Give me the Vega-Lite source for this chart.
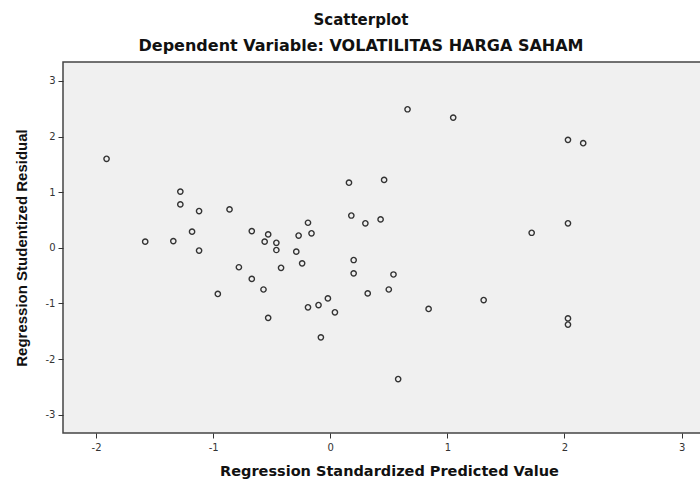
{
  "$schema": "https://vega.github.io/schema/vega-lite/v6.json",
  "width": 640,
  "height": 371,
  "autosize": "none",
  "padding": {"left": 63, "top": 62, "right": 0, "bottom": 49},
  "background": "white",
  "title": {
    "text": "Scatterplot",
    "subtitle": "Dependent Variable: VOLATILITAS HARGA SAHAM",
    "anchor": "middle",
    "frame": "group",
    "dx": -22,
    "offset": 8,
    "font": "DejaVu Sans",
    "fontSize": 15,
    "fontWeight": "bold",
    "color": "#111111",
    "subtitleFont": "DejaVu Sans",
    "subtitleFontSize": 16,
    "subtitleFontWeight": "bold",
    "subtitleColor": "#111111",
    "subtitlePadding": 10
  },
  "config": {
    "view": {"fill": "#f0f0f0", "stroke": "#444444", "strokeWidth": 1.5},
    "axis": {
      "labelFont": "DejaVu Sans",
      "labelFontSize": 10,
      "labelColor": "#333333",
      "titleFont": "DejaVu Sans",
      "titleFontWeight": "bold",
      "titleColor": "#111111",
      "grid": false,
      "domain": false,
      "tickColor": "#333333",
      "tickSize": 5,
      "tickWidth": 1,
      "labelExpr": "'' + datum.value"
    }
  },
  "data": {
    "values": [
      {"pred": -1.91, "resid": 1.60},
      {"pred": -1.28, "resid": 1.01},
      {"pred": -1.28, "resid": 0.78},
      {"pred": -1.12, "resid": 0.66},
      {"pred": -0.86, "resid": 0.69},
      {"pred": -1.18, "resid": 0.29},
      {"pred": -1.58, "resid": 0.11},
      {"pred": -1.34, "resid": 0.12},
      {"pred": -1.12, "resid": -0.05},
      {"pred": -0.67, "resid": 0.30},
      {"pred": -0.53, "resid": 0.24},
      {"pred": -0.56, "resid": 0.11},
      {"pred": -0.46, "resid": 0.09},
      {"pred": -0.46, "resid": -0.04},
      {"pred": -0.29, "resid": -0.07},
      {"pred": -0.27, "resid": 0.22},
      {"pred": -0.19, "resid": 0.45},
      {"pred": -0.16, "resid": 0.26},
      {"pred": 0.16, "resid": 1.17},
      {"pred": 0.18, "resid": 0.58},
      {"pred": 0.30, "resid": 0.44},
      {"pred": -0.78, "resid": -0.35},
      {"pred": -0.42, "resid": -0.36},
      {"pred": -0.24, "resid": -0.28},
      {"pred": 0.20, "resid": -0.22},
      {"pred": 0.20, "resid": -0.46},
      {"pred": -0.67, "resid": -0.56},
      {"pred": -0.57, "resid": -0.75},
      {"pred": -0.96, "resid": -0.83},
      {"pred": 0.32, "resid": -0.82},
      {"pred": -0.02, "resid": -0.91},
      {"pred": -0.10, "resid": -1.03},
      {"pred": -0.19, "resid": -1.07},
      {"pred": 0.04, "resid": -1.16},
      {"pred": -0.53, "resid": -1.26},
      {"pred": -0.08, "resid": -1.61},
      {"pred": 0.66, "resid": 2.49},
      {"pred": 1.05, "resid": 2.34},
      {"pred": 2.03, "resid": 1.94},
      {"pred": 2.16, "resid": 1.88},
      {"pred": 0.46, "resid": 1.22},
      {"pred": 0.43, "resid": 0.51},
      {"pred": 1.72, "resid": 0.27},
      {"pred": 2.03, "resid": 0.44},
      {"pred": 0.54, "resid": -0.48},
      {"pred": 0.50, "resid": -0.75},
      {"pred": 0.84, "resid": -1.10},
      {"pred": 1.31, "resid": -0.94},
      {"pred": 2.03, "resid": -1.27},
      {"pred": 2.03, "resid": -1.38},
      {"pred": 0.58, "resid": -2.36}
    ]
  },
  "mark": {"type": "point", "shape": "circle", "size": 28, "filled": false, "stroke": "#333333", "strokeWidth": 1.4, "opacity": 1},
  "encoding": {
    "x": {
      "field": "pred",
      "type": "quantitative",
      "scale": {"domain": [-2.282, 3.183], "nice": false, "zero": false},
      "axis": {"values": [-2, -1, 0, 1, 2, 3], "title": "Regression Standardized Predicted Value", "titleFontSize": 14.5, "titleX": 326, "titleAlign": "center", "titlePadding": 12, "labelPadding": 4}
    },
    "y": {
      "field": "resid",
      "type": "quantitative",
      "scale": {"domain": [-3.33, 3.34], "nice": false, "zero": false},
      "axis": {"values": [-3, -2, -1, 0, 1, 2, 3], "title": "Regression Studentized Residual", "titleFont": "Liberation Sans", "titleFontSize": 15, "titlePadding": 16, "labelPadding": 3}
    }
  }
}
